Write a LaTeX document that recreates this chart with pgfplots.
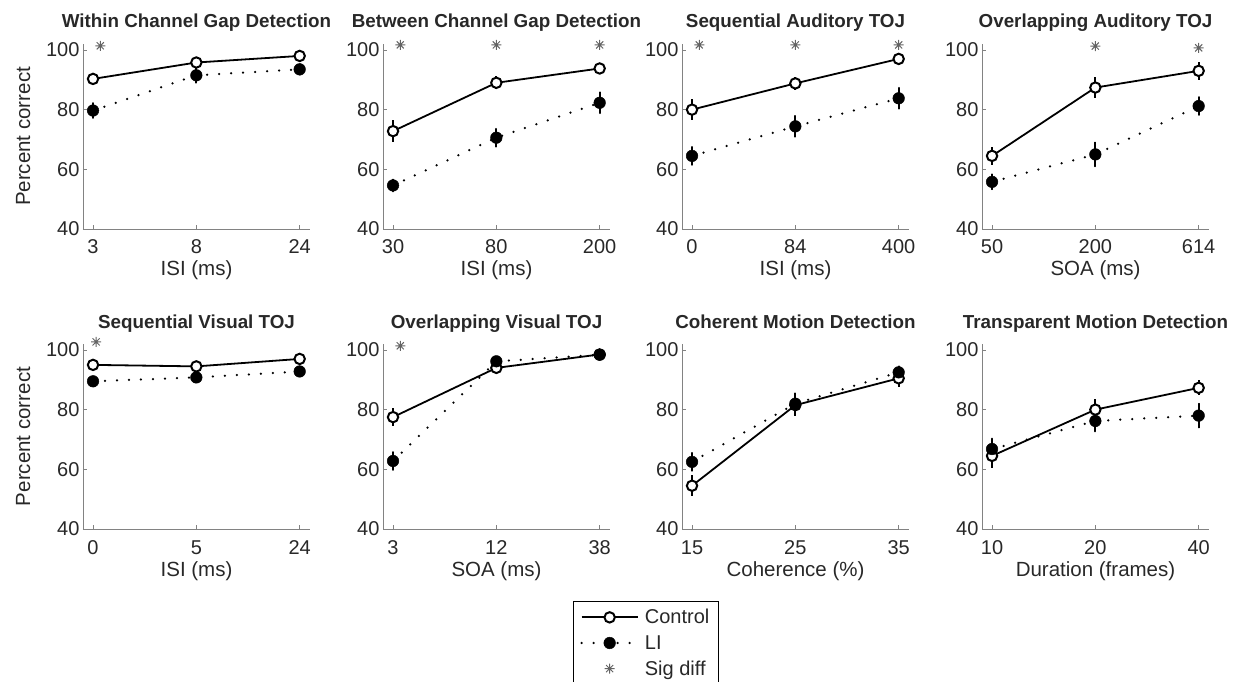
\documentclass[border=0pt]{standalone}
\usepackage{pgfplots}
\pgfplotsset{compat=1.18}
\usepackage{fontspec}
\setmainfont{Liberation Sans}
\definecolor{axgray}{RGB}{130,130,130}
\definecolor{txt}{RGB}{40,40,40}
\definecolor{stargray}{RGB}{100,100,100}
\pgfdeclareplotmark{ast8}{%
  \pgfpathmoveto{\pgfqpoint{-\pgfplotmarksize}{0pt}}\pgfpathlineto{\pgfqpoint{\pgfplotmarksize}{0pt}}%
  \pgfpathmoveto{\pgfqpoint{0pt}{-\pgfplotmarksize}}\pgfpathlineto{\pgfqpoint{0pt}{\pgfplotmarksize}}%
  \pgfpathmoveto{\pgfqpoint{-0.707\pgfplotmarksize}{-0.707\pgfplotmarksize}}\pgfpathlineto{\pgfqpoint{0.707\pgfplotmarksize}{0.707\pgfplotmarksize}}%
  \pgfpathmoveto{\pgfqpoint{-0.707\pgfplotmarksize}{0.707\pgfplotmarksize}}\pgfpathlineto{\pgfqpoint{0.707\pgfplotmarksize}{-0.707\pgfplotmarksize}}%
  \pgfusepathqstroke}
\pgfplotsset{
 panel/.style={
  scale only axis, width=227pt, height=185pt,
  xmin=-0.097, xmax=2.1, ymin=40, ymax=102,
  xtick={0,1,2}, ytick={40,60,80,100},
  axis lines*=left,
  axis line style={axgray, line width=0.9pt},
  tick style={axgray, line width=0.9pt},
  major tick length=4pt, tick align=inside,
  tick label style={font=\fontsize{20}{22}\selectfont, text=txt},
  xticklabel style={anchor=base, yshift=-25pt},
  label style={font=\fontsize{20.5}{23}\selectfont, text=txt},
  xlabel style={at={(axis description cs:0.5,0)}, anchor=base, yshift=-47pt},
  ylabel style={at={(axis description cs:-0.264,0.5)}, anchor=center},
  title style={font=\fontsize{18.8}{21}\selectfont\bfseries, text=txt, at={(axis description cs:0.5,1)}, anchor=base, yshift=10pt},
  clip=false,
  /pgf/number format/assume math mode=true,
 },
 ctrl/.style={black, solid, line width=1.8pt, mark=*, mark size=5.2pt,
   mark options={fill=white, line width=2pt, solid},
   error bars/.cd, y dir=both, y explicit,
   error bar style={line width=1.8pt, black, solid}, error mark=none},
 li/.style={black, line width=2.5pt, dash pattern=on 0pt off 12pt, line cap=round,
   mark=*, mark size=5.8pt, mark options={fill=black, solid, line width=0.5pt},
   error bars/.cd, y dir=both, y explicit,
   error bar style={line width=1.8pt, black, solid}, error mark=none},
 sig/.style={only marks, mark=ast8, mark size=5pt, stargray, mark options={line width=1pt, solid}},
 legimg/.style={legend image code/.code={\draw[mark repeat=2,mark phase=2,##1] plot coordinates {(0pt,0pt) (28pt,0pt) (56pt,0pt)};}},
}
\begin{document}
\begin{tikzpicture}
\useasboundingbox (0pt,0pt) rectangle (1237pt,681pt);
% ---------- top row ----------
\begin{axis}[panel, at={(83pt,452pt)}, anchor=south west,
  title={Within Channel Gap Detection}, xticklabels={3,8,24}, xlabel={ISI (ms)}, ylabel={Percent correct}]
\addplot[ctrl] coordinates {(0,90.3) +- (0,1.5) (1,95.8) +- (0,1.2) (2,98.0) +- (0,1.0)};
\addplot[li] coordinates {(0,79.7) +- (0,2.5) (1,91.5) +- (0,2.5) (2,93.5) +- (0,1.8)};
\addplot[sig] coordinates {(0.07,101.4)};
\end{axis}
\begin{axis}[panel, at={(383pt,452pt)}, anchor=south west,
  title={Between Channel Gap Detection}, xticklabels={30,80,200}, xlabel={ISI (ms)}]
\addplot[ctrl] coordinates {(0,72.8) +- (0,3.7) (1,89.0) +- (0,2.2) (2,93.8) +- (0,1.5)};
\addplot[li] coordinates {(0,54.6) +- (0,2.0) (1,70.6) +- (0,3.0) (2,82.3) +- (0,3.5)};
\addplot[sig] coordinates {(0.07,101.7) (1,101.7) (2,101.7)};
\end{axis}
\begin{axis}[panel, at={(682pt,452pt)}, anchor=south west,
  title={Sequential Auditory TOJ}, xticklabels={0,84,400}, xlabel={ISI (ms)}]
\addplot[ctrl] coordinates {(0,80.0) +- (0,3.5) (1,88.8) +- (0,2.2) (2,97.0) +- (0,1.2)};
\addplot[li] coordinates {(0,64.5) +- (0,3.0) (1,74.4) +- (0,3.5) (2,83.8) +- (0,3.5)};
\addplot[sig] coordinates {(0.07,101.7) (1,101.7) (2,101.7)};
\end{axis}
\begin{axis}[panel, at={(982pt,452pt)}, anchor=south west,
  title={Overlapping Auditory TOJ}, xticklabels={50,200,614}, xlabel={SOA (ms)}]
\addplot[ctrl] coordinates {(0,64.5) +- (0,3.0) (1,87.4) +- (0,3.5) (2,93.0) +- (0,3.0)};
\addplot[li] coordinates {(0,55.8) +- (0,2.5) (1,65.0) +- (0,4.0) (2,81.2) +- (0,3.0)};
\addplot[sig] coordinates {(1,101.3) (2,100.7)};
\end{axis}
% ---------- bottom row ----------
\begin{axis}[panel, at={(83pt,152pt)}, anchor=south west,
  title={Sequential Visual TOJ}, xticklabels={0,5,24}, xlabel={ISI (ms)}, ylabel={Percent correct}]
\addplot[ctrl] coordinates {(0,95.0) +- (0,1.0) (1,94.5) +- (0,1.0) (2,97.0) +- (0,1.0)};
\addplot[li] coordinates {(0,89.5) +- (0,1.2) (1,90.8) +- (0,1.2) (2,92.8) +- (0,1.2)};
\addplot[sig] coordinates {(0.03,102.7)};
\end{axis}
\begin{axis}[panel, at={(383pt,152pt)}, anchor=south west,
  title={Overlapping Visual TOJ}, xticklabels={3,12,38}, xlabel={SOA (ms)},
  legend style={at={(axis description cs:0.837,-0.389)}, anchor=north west,
    draw=black, line width=0.8pt, font=\fontsize{20}{22}\selectfont, text=txt,
    row sep=6pt, column sep=4pt, inner xsep=7pt, inner ysep=6pt},
  legend cell align=left]
\addplot[legimg, ctrl] coordinates {(0,77.5) +- (0,3.0) (1,94.0) +- (0,1.0) (2,98.5) +- (0,0.8)};
\addlegendentry{Control}
\addplot[legimg, li] coordinates {(0,62.8) +- (0,3.0) (1,96.2) +- (0,1.0) (2,98.4) +- (0,0.8)};
\addlegendentry{LI}
\addplot[legimg, sig] coordinates {(0.07,101.4)};
\addlegendentry{Sig diff}
\end{axis}
\begin{axis}[panel, at={(682pt,152pt)}, anchor=south west,
  title={Coherent Motion Detection}, xticklabels={15,25,35}, xlabel={Coherence (\%)}]
\addplot[ctrl] coordinates {(0,54.5) +- (0,3.5) (1,81.5) +- (0,3.5) (2,90.5) +- (0,3.0)};
\addplot[li] coordinates {(0,62.5) +- (0,3.0) (1,82.0) +- (0,3.5) (2,92.5) +- (0,2.0)};
\end{axis}
\begin{axis}[panel, at={(982pt,152pt)}, anchor=south west,
  title={Transparent Motion Detection}, xticklabels={10,20,40}, xlabel={Duration (frames)}]
\addplot[ctrl] coordinates {(0,64.5) +- (0,4.0) (1,80.0) +- (0,3.5) (2,87.3) +- (0,2.5)};
\addplot[li] coordinates {(0,66.8) +- (0,3.5) (1,76.2) +- (0,3.5) (2,78.0) +- (0,4.0)};
\end{axis}
\end{tikzpicture}
\end{document}
